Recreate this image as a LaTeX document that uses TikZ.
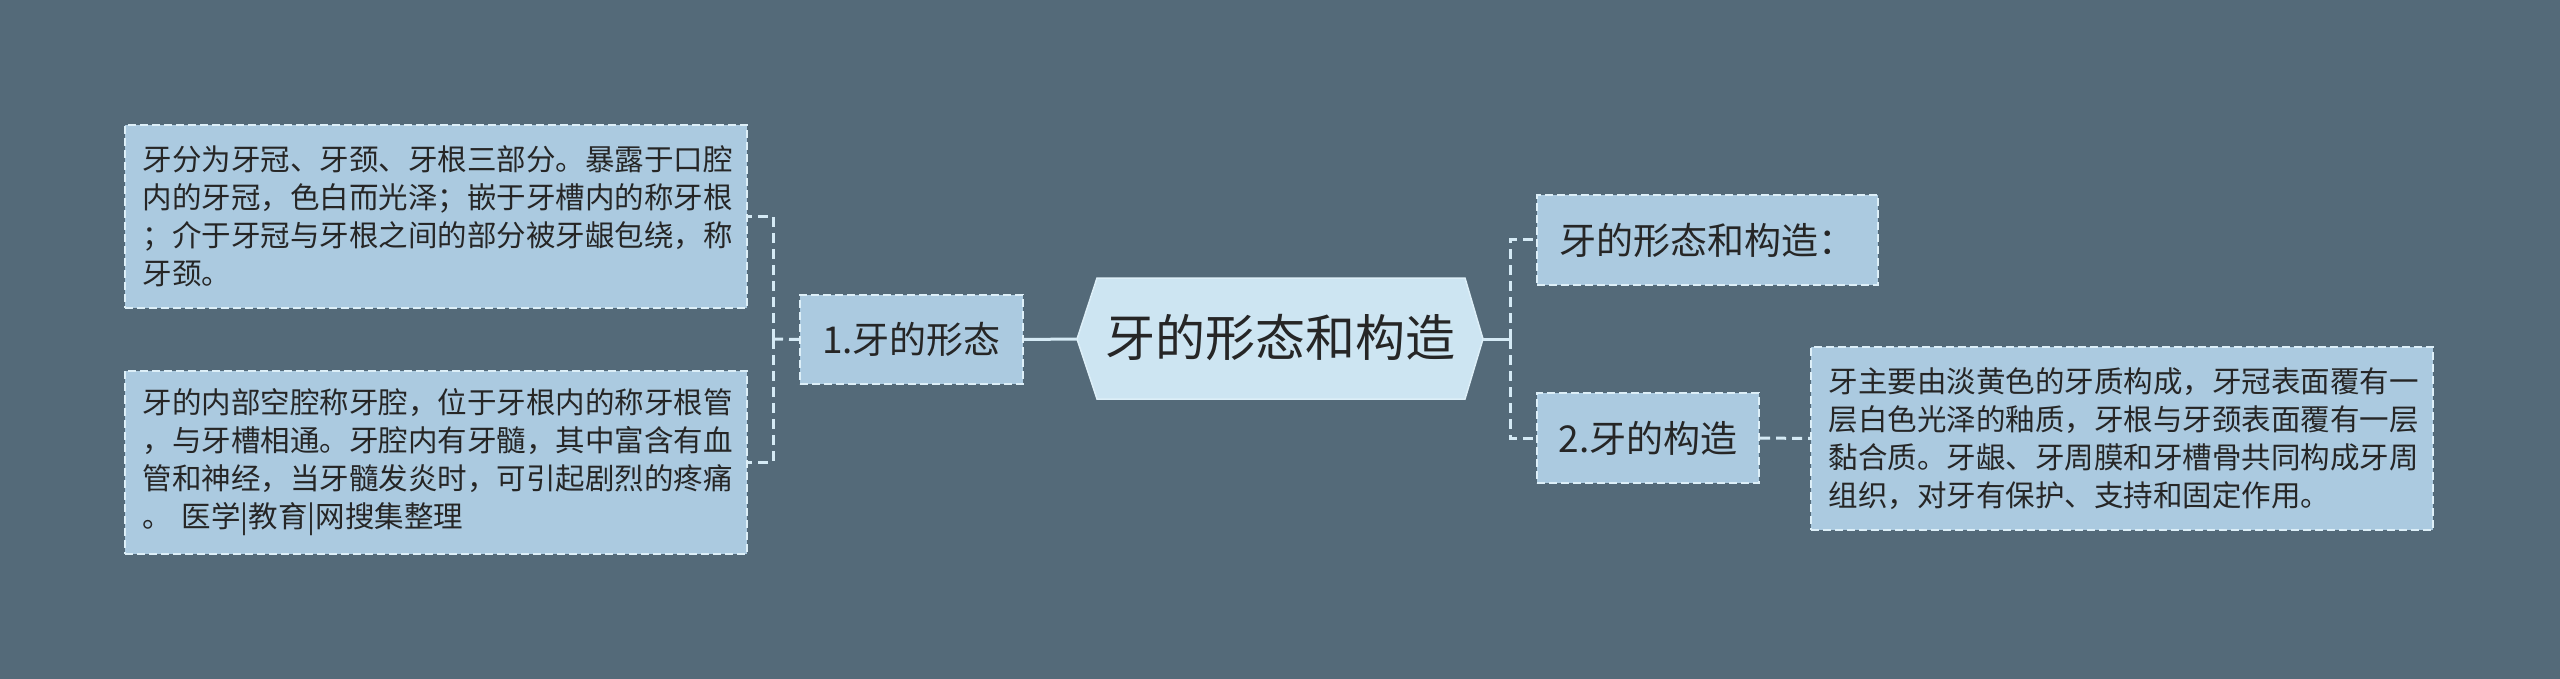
\documentclass[tikz,border=0pt]{standalone}
\usepackage{fontspec}
\setmainfont{Noto Sans CJK SC}
\usetikzlibrary{positioning}
\definecolor{bgcol}{HTML}{546A79}
\definecolor{boxfill}{HTML}{ABCAE0}
\definecolor{hexfill}{HTML}{CDE5F2}
\definecolor{edgecol}{HTML}{DDEFF8}
\definecolor{linecol}{HTML}{D5EAF5}
\definecolor{txtcol}{HTML}{262626}
\begin{document}
\begin{tikzpicture}[x=1pt,y=-1pt,
  boxstyle/.style={draw=edgecol, line width=2pt, dash pattern=on 8pt off 4pt, fill=boxfill, text=txtcol, inner sep=0pt},
  textbox/.style={boxstyle, minimum width=622pt, minimum height=183pt, align=left, font=\fontsize{29.5}{38}\selectfont},
  midbox/.style={boxstyle, minimum height=89pt, font=\fontsize{37}{44}\selectfont},
  connd/.style={draw=linecol, line width=3pt, dash pattern=on 10pt off 6pt},
  conns/.style={draw=linecol, line width=3pt}
]
\useasboundingbox (0,0) rectangle (2560,679);
\fill[bgcol] (0,0) rectangle (2560,679);

% centre hexagon
\coordinate (cl) at (1077,339);
\coordinate (cr) at (1483,339);
\filldraw[fill=hexfill, draw=edgecol, line width=1.5pt] (1097,278) -- (1465,278) -- (cr) -- (1465,399) -- (1097,399) -- (cl) -- cycle;
\node[text=txtcol, font=\fontsize{50}{58}\selectfont, inner sep=0pt] (c) at (1280,338) {牙的形态和构造};

% left side
\node[midbox, minimum width=223pt] (n1) at (911.5,339.5) {1.牙的形态};
\node[textbox] (t1) at (436,216.5) {\hspace*{3pt}牙分为牙冠、牙颈、牙根三部分。暴露于口腔\\\hspace*{3pt}内的牙冠，色白而光泽；嵌于牙槽内的称牙根\\\hspace*{3pt}；介于牙冠与牙根之间的部分被牙龈包绕，称\\\hspace*{3pt}牙颈。};
\node[textbox] (t2) at (436,462) {\hspace*{3pt}牙的内部空腔称牙腔，位于牙根内的称牙根管\\\hspace*{3pt}，与牙槽相通。牙腔内有牙髓，其中富含有血\\\hspace*{3pt}管和神经，当牙髓发炎时，可引起剧烈的疼痛\\\hspace*{3pt}。\hspace{0.33em}医学|教育|网搜集整理};

% right side
\node[midbox, minimum width=341pt, minimum height=90pt] (r1) at (1707.5,240) {牙的形态和构造：};
\node[midbox, minimum width=222pt, minimum height=90pt] (r2) at (1648,438) {2.牙的构造};
\node[textbox] (r3) at (2122,438.5) {\hspace*{3pt}牙主要由淡黄色的牙质构成，牙冠表面覆有一\\\hspace*{3pt}层白色光泽的釉质，牙根与牙颈表面覆有一层\\\hspace*{3pt}黏合质。牙龈、牙周膜和牙槽骨共同构成牙周\\\hspace*{3pt}组织，对牙有保护、支持和固定作用。};

% connectors
\coordinate (lb) at (773,339);
\coordinate (rb) at (1510,339);
\draw[conns] (n1.east) -- (cl);
\draw[connd] (n1.west) -- (lb);
\draw[connd] (lb) |- (t1.east);
\draw[connd] (lb) |- (t2.east);
\draw[conns] (cr) -- (rb);
\draw[connd] (rb) |- (r1.west);
\draw[connd] (rb) |- (r2.west);
\draw[connd] (r2.east) -- (r3.west);
\end{tikzpicture}
\end{document}
